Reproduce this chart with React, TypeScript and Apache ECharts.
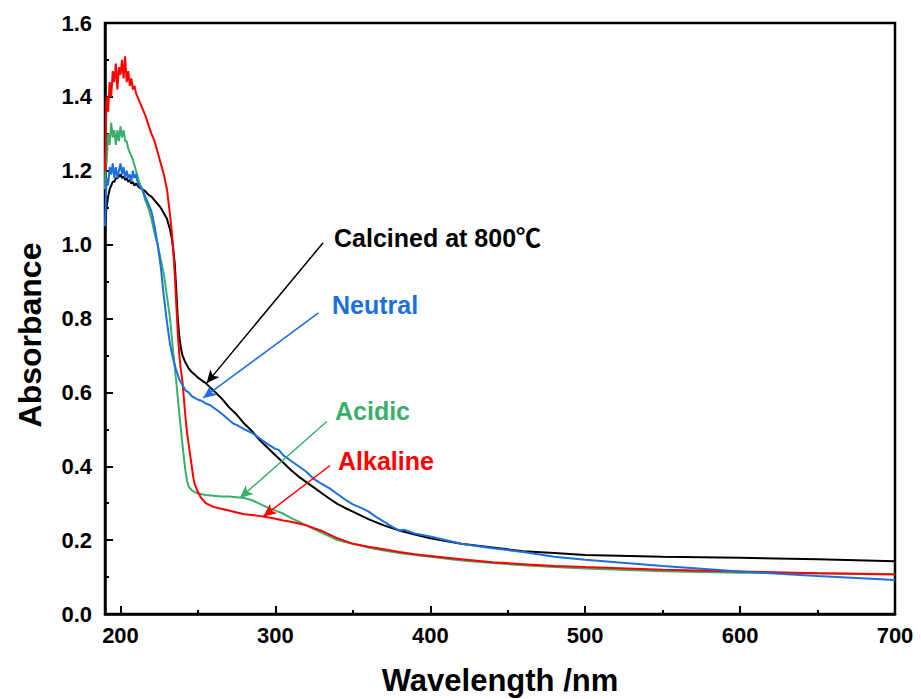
import React, { useEffect, useRef } from "react";
import * as echarts from "echarts";

const calcined: [number, number][] = [
  [190, 1.06], [191, 1.1], [192, 1.13], [193, 1.15], [194, 1.16], [195, 1.17], [196, 1.17], [197, 1.18],
  [198, 1.18], [199, 1.185], [200, 1.19], [201, 1.18], [202, 1.185], [203, 1.175], [204, 1.18], [205, 1.17],
  [206, 1.175], [207, 1.165], [208, 1.17], [209, 1.16], [210, 1.165], [212, 1.155], [214, 1.15], [216, 1.145],
  [218, 1.135], [220, 1.13], [222, 1.12], [224, 1.11], [226, 1.1], [228, 1.085], [230, 1.07], [231, 1.055],
  [232, 1.04], [233, 1.02], [234, 0.99], [235, 0.95], [236, 0.88], [237, 0.8], [238, 0.75], [239, 0.72],
  [240, 0.7], [242, 0.68], [244, 0.665], [246, 0.655], [248, 0.648], [250, 0.64], [255, 0.625], [260, 0.605],
  [265, 0.585], [270, 0.56], [275, 0.54], [280, 0.515], [285, 0.495], [290, 0.47], [295, 0.45], [300, 0.43],
  [305, 0.41], [310, 0.39], [315, 0.372], [320, 0.357], [325, 0.342], [330, 0.327], [335, 0.312], [340, 0.298],
  [345, 0.287], [350, 0.277], [360, 0.257], [370, 0.24], [380, 0.226], [390, 0.215], [400, 0.205], [420, 0.19],
  [440, 0.18], [460, 0.17], [480, 0.165], [500, 0.16], [550, 0.155], [600, 0.152], [650, 0.148], [700, 0.143],
];

const alkaline: [number, number][] = [
  [190, 1.2], [190.5, 1.3], [191, 1.4], [192, 1.36], [193, 1.44], [194, 1.4], [195, 1.47], [196, 1.44],
  [197, 1.49], [198, 1.42], [199, 1.48], [200, 1.46], [201, 1.5], [202, 1.45], [203, 1.51], [204, 1.44],
  [205, 1.47], [206, 1.43], [207, 1.45], [208, 1.42], [209, 1.43], [210, 1.41], [212, 1.39], [214, 1.37],
  [216, 1.35], [218, 1.325], [220, 1.3], [222, 1.28], [224, 1.25], [226, 1.22], [228, 1.19], [230, 1.15],
  [232, 1.08], [233, 1.04], [234, 0.99], [235, 0.92], [236, 0.84], [237, 0.76], [238, 0.7], [239, 0.66],
  [240, 0.63], [241, 0.58], [242, 0.53], [243, 0.49], [244, 0.46], [245, 0.43], [246, 0.4], [247, 0.37],
  [248, 0.35], [250, 0.33], [252, 0.315], [255, 0.3], [260, 0.29], [265, 0.285], [270, 0.28], [275, 0.275],
  [280, 0.27], [285, 0.268], [290, 0.265], [295, 0.262], [300, 0.258], [305, 0.253], [310, 0.25], [315, 0.245],
  [320, 0.24], [325, 0.232], [330, 0.225], [335, 0.215], [340, 0.205], [345, 0.198], [350, 0.19], [360, 0.182],
  [370, 0.175], [380, 0.168], [390, 0.162], [400, 0.157], [420, 0.148], [440, 0.14], [460, 0.135], [480, 0.13],
  [500, 0.127], [550, 0.12], [600, 0.115], [650, 0.11], [700, 0.107],
];

const acidic: [number, number][] = [
  [190, 1.15], [190.5, 1.25], [191, 1.22], [192, 1.3], [193, 1.27], [194, 1.33], [195, 1.29], [196, 1.31],
  [197, 1.27], [198, 1.31], [199, 1.28], [200, 1.32], [201, 1.29], [202, 1.31], [203, 1.28], [204, 1.28],
  [205, 1.26], [206, 1.25], [207, 1.24], [208, 1.23], [210, 1.2], [212, 1.17], [214, 1.15], [216, 1.12],
  [218, 1.1], [220, 1.07], [222, 1.03], [224, 1.0], [226, 0.96], [228, 0.92], [230, 0.86], [232, 0.8],
  [234, 0.71], [236, 0.63], [238, 0.54], [240, 0.46], [241, 0.42], [242, 0.385], [243, 0.36], [244, 0.345],
  [246, 0.335], [248, 0.33], [250, 0.326], [255, 0.322], [260, 0.32], [265, 0.318], [270, 0.318], [275, 0.316],
  [280, 0.314], [285, 0.308], [290, 0.298], [295, 0.288], [300, 0.28], [305, 0.272], [310, 0.26], [315, 0.25],
  [320, 0.24], [325, 0.23], [330, 0.22], [335, 0.21], [340, 0.2], [345, 0.195], [350, 0.19], [360, 0.18],
  [370, 0.172], [380, 0.165], [390, 0.16], [400, 0.155], [420, 0.145], [440, 0.138], [460, 0.132], [480, 0.127],
  [500, 0.123], [550, 0.116], [600, 0.112], [650, 0.11], [700, 0.108],
];

const neutral: [number, number][] = [
  [190, 1.05], [190.5, 1.12], [191, 1.18], [192, 1.16], [193, 1.21], [194, 1.19], [195, 1.22], [196, 1.18],
  [197, 1.21], [198, 1.18], [199, 1.2], [200, 1.22], [201, 1.19], [202, 1.21], [203, 1.18], [204, 1.2],
  [205, 1.18], [206, 1.19], [207, 1.17], [208, 1.2], [209, 1.18], [210, 1.19], [211, 1.17], [212, 1.16],
  [214, 1.15], [216, 1.13], [218, 1.11], [220, 1.09], [222, 1.05], [224, 1.0], [226, 0.94], [228, 0.86],
  [230, 0.79], [232, 0.73], [234, 0.69], [236, 0.66], [238, 0.635], [240, 0.62], [242, 0.605], [244, 0.6],
  [246, 0.59], [248, 0.585], [250, 0.58], [252, 0.578], [255, 0.57], [258, 0.565], [262, 0.553], [266, 0.54],
  [270, 0.525], [273, 0.515], [275, 0.512], [280, 0.5], [285, 0.49], [290, 0.475], [295, 0.46], [300, 0.447],
  [302, 0.445], [305, 0.43], [310, 0.415], [315, 0.4], [320, 0.385], [325, 0.365], [330, 0.352], [335, 0.34],
  [340, 0.325], [345, 0.31], [350, 0.297], [355, 0.288], [360, 0.278], [365, 0.263], [370, 0.25], [375, 0.237],
  [380, 0.226], [383, 0.228], [390, 0.218], [400, 0.21], [420, 0.19], [440, 0.178], [460, 0.168], [480, 0.155],
  [500, 0.147], [550, 0.13], [600, 0.115], [650, 0.103], [700, 0.092],
];

const xMajorTicks = [200, 300, 400, 500, 600, 700];
const xMinorTicks = [250, 350, 450, 550, 650];

// arrow annotations: [start, tip] in data coordinates
const arrowCalcined: [number, number][] = [[330.8, 1.005], [255.6, 0.625]];
const arrowNeutral: [number, number][] = [[327.8, 0.815], [253.4, 0.585]];
const arrowAcidic: [number, number][] = [[333.2, 0.521], [277.1, 0.314]];
const arrowAlkaline: [number, number][] = [[335.3, 0.402], [292.2, 0.264]];

const FONT = "'Liberation Sans', Arial, 'Noto Sans CJK SC', sans-serif";
const BLACK = "#000000";
const BLUE = "#1d6fdc";
const GREEN = "#3aaf6c";
const RED = "#ff0000";

function arrow(pts: [number, number][], color: string) {
  return {
    silent: true,
    symbol: ["none", "arrow"],
    symbolSize: [9, 13],
    label: { show: false },
    lineStyle: { color, width: 1.5, type: "solid" },
    data: [[{ coord: pts[0] }, { coord: pts[1] }]],
  };
}

function line(name: string, data: [number, number][], color: string, pts: [number, number][]) {
  return {
    name,
    type: "line",
    data,
    showSymbol: false,
    symbol: "none",
    lineStyle: { color, width: 2 },
    itemStyle: { color },
    markLine: arrow(pts, color),
  };
}

export default function App() {
  const ref = useRef<HTMLDivElement>(null);
  useEffect(() => {
    if (!ref.current) return;
    const chart = echarts.init(ref.current, null, { renderer: "svg" });
    chart.setOption({
      animation: false,
      backgroundColor: "#ffffff",
      grid: {
        left: 105,
        right: 26,
        top: 23,
        bottom: 85,
        show: true,
        borderColor: BLACK,
        borderWidth: 2.5,
        backgroundColor: "transparent",
      },
      xAxis: [
        {
          type: "value",
          min: 190,
          max: 700,
          axisLine: { show: true, lineStyle: { color: BLACK, width: 2.5 } },
          axisTick: { show: true, inside: true, length: 8, lineStyle: { color: BLACK, width: 2 }, customValues: xMajorTicks },
          axisLabel: {
            show: true,
            customValues: xMajorTicks,
            margin: 10,
            color: BLACK,
            fontFamily: FONT,
            fontWeight: "bold",
            fontSize: 22,
          },
          splitLine: { show: false },
        },
        {
          type: "value",
          min: 190,
          max: 700,
          position: "bottom",
          axisLine: { show: false },
          axisTick: { show: true, inside: true, length: 4, lineStyle: { color: BLACK, width: 2 }, customValues: xMinorTicks },
          axisLabel: { show: false },
          splitLine: { show: false },
        },
      ],
      yAxis: {
        type: "value",
        min: 0,
        max: 1.6,
        interval: 0.2,
        axisLine: { show: true, lineStyle: { color: BLACK, width: 2.5 } },
        axisTick: { show: true, inside: true, length: 8, lineStyle: { color: BLACK, width: 2 } },
        minorTick: { show: true, splitNumber: 2, length: 4, lineStyle: { color: BLACK, width: 2 } },
        axisLabel: {
          margin: 13,
          color: BLACK,
          fontFamily: FONT,
          fontWeight: "bold",
          fontSize: 22,
          formatter: (v: number) => v.toFixed(1),
        },
        splitLine: { show: false },
        minorSplitLine: { show: false },
      },
      series: [
        line("Calcined at 800℃", calcined, BLACK, arrowCalcined),
        line("Acidic", acidic, GREEN, arrowAcidic),
        line("Alkaline", alkaline, RED, arrowAlkaline),
        line("Neutral", neutral, BLUE, arrowNeutral),
      ],
      graphic: [
        {
          type: "text",
          x: 334,
          y: 238,
          style: { text: "Calcined at 800℃", fill: BLACK, font: `bold 25px ${FONT}`, textVerticalAlign: "middle" },
        },
        {
          type: "text",
          x: 332,
          y: 305,
          style: { text: "Neutral", fill: BLUE, font: `bold 25px ${FONT}`, textVerticalAlign: "middle" },
        },
        {
          type: "text",
          x: 335,
          y: 411,
          style: { text: "Acidic", fill: GREEN, font: `bold 25px ${FONT}`, textVerticalAlign: "middle" },
        },
        {
          type: "text",
          x: 338,
          y: 461,
          style: { text: "Alkaline", fill: RED, font: `bold 25px ${FONT}`, textVerticalAlign: "middle" },
        },
        {
          type: "text",
          x: 500,
          y: 680,
          style: {
            text: "Wavelength /nm",
            fill: BLACK,
            font: `bold 31px ${FONT}`,
            textAlign: "center",
            textVerticalAlign: "middle",
          },
        },
        {
          type: "text",
          x: 30,
          y: 335,
          rotation: Math.PI / 2,
          style: {
            text: "Absorbance",
            fill: BLACK,
            font: `bold 32px ${FONT}`,
            textAlign: "center",
            textVerticalAlign: "middle",
          },
        },
      ],
    });
    return () => chart.dispose();
  }, []);
  return (
    <div
      ref={ref}
      style={{ position: "fixed", left: 0, top: 0, width: 921, height: 699, background: "#fff" }}
    />
  );
}
